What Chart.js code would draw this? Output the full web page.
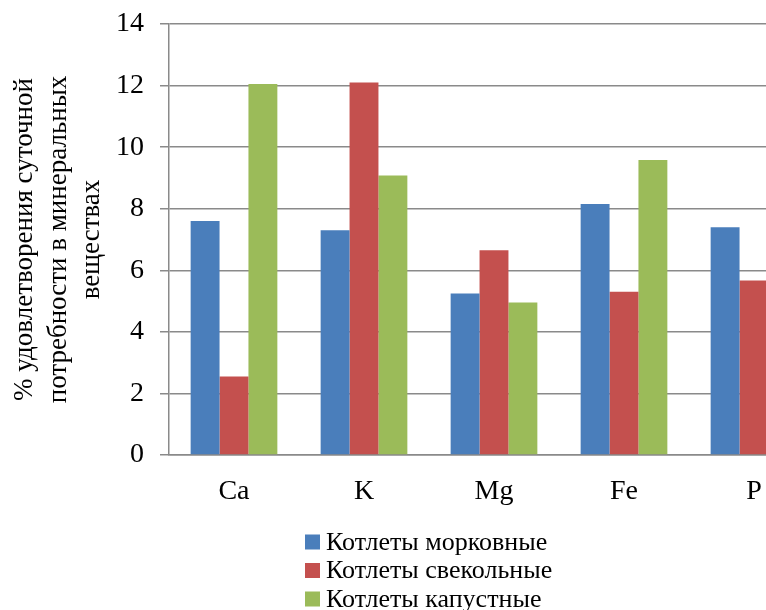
<!DOCTYPE html>
<html>
<head>
<meta charset="utf-8">
<script src="https://cdn.jsdelivr.net/npm/chart.js@4.4.1/dist/chart.umd.min.js"></script>
<style>
  html, body { margin: 0; padding: 0; background: #fff; }
  canvas { display: block; }
</style>
</head>
<body>
<canvas id="c" width="766" height="610"></canvas>
<script>
// Minerals on the category axis
const categories = ['Ca', 'K', 'Mg', 'Fe', 'P'];

// % of daily requirement covered, per kind of cutlet
const carrotCutlets = [7.6, 7.3, 5.25, 8.15, 7.4];
const beetCutlets = [2.55, 12.1, 6.65, 5.3, 5.67];
const cabbageCutlets = [12.05, 9.08, 4.95, 9.58, 6.9];

const seriesNames = ['Котлеты морковные', 'Котлеты свекольные', 'Котлеты капустные'];
const seriesColors = ['#4a7ebb', '#c4504e', '#9bbb59'];

const yTicks = [0, 2, 4, 6, 8, 10, 12, 14];
const yTitle = ['% удовлетворения суточной', 'потребности в минеральных', 'веществах'];

const FONT = "'Liberation Serif'";
Chart.defaults.font.family = FONT;
Chart.defaults.color = '#000';

// The category axis runs on past the right edge of the canvas
const wideCategoryAxis = {
  id: 'wideCategoryAxis',
  afterLayout(chart, args, opts) {
    const x = chart.scales.x;
    x._length = opts.length;
    x._endPixel = x._startPixel + opts.length;
    x._labelItems = null;
  }
};

// Vertical legend underneath the plot
const stackedLegend = {
  id: 'stackedLegend',
  afterDraw(chart, args, opts) {
    const ctx = chart.ctx;
    ctx.save();
    ctx.font = opts.fontSize + 'px ' + FONT;
    ctx.textBaseline = 'middle';
    ctx.textAlign = 'left';
    chart.data.datasets.forEach((ds, i) => {
      const cy = opts.top + i * opts.rowHeight;
      ctx.fillStyle = ds.backgroundColor;
      ctx.fillRect(opts.left, cy - opts.box / 2, opts.box, opts.box);
      ctx.fillStyle = '#000';
      ctx.fillText(ds.label, opts.left + opts.box + 6, cy + 1);
    });
    ctx.restore();
  }
};

const datasets = [carrotCutlets, beetCutlets, cabbageCutlets].map((vals, i) => ({
  label: seriesNames[i],
  data: vals,
  backgroundColor: seriesColors[i],
  borderWidth: 0,
  categoryPercentage: 0.667,
  barPercentage: 1.0
}));

new Chart(document.getElementById('c'), {
  type: 'bar',
  data: { labels: categories, datasets },
  plugins: [wideCategoryAxis, stackedLegend],
  options: {
    responsive: false,
    animation: false,
    layout: { padding: { top: 24, right: 0, bottom: 0, left: 0 } },
    plugins: {
      legend: { display: false },
      tooltip: { enabled: false },
      wideCategoryAxis: { length: 650 },
      stackedLegend: { left: 305, top: 542, rowHeight: 28.5, box: 15, fontSize: 26 }
    },
    scales: {
      x: {
        grid: { display: false, drawTicks: false },
        border: { display: true, color: '#8a8a8a', width: 1.5 },
        ticks: { color: '#000', font: { family: FONT, size: 28 }, padding: 20 },
        afterFit(scale) {
          scale.height = 155;
          scale.paddingLeft = 0;
          scale.paddingRight = 0;
        }
      },
      y: {
        min: 0,
        max: 14,
        afterBuildTicks(scale) { scale.ticks = yTicks.map(v => ({ value: v })); },
        grid: { color: '#8a8a8a', lineWidth: 1.5, tickLength: 9, drawTicks: true },
        border: { display: true, color: '#8a8a8a', width: 1.5 },
        ticks: { color: '#000', font: { family: FONT, size: 28 }, padding: 16 },
        title: {
          display: true,
          text: yTitle,
          color: '#000',
          font: { family: FONT, size: 27, lineHeight: 1.25 },
          padding: { top: 8, bottom: 0 }
        },
        afterFit(scale) {
          scale.width = 169;
          scale.paddingTop = 0;
          scale.paddingBottom = 0;
        }
      }
    }
  }
});
</script>
</body>
</html>
